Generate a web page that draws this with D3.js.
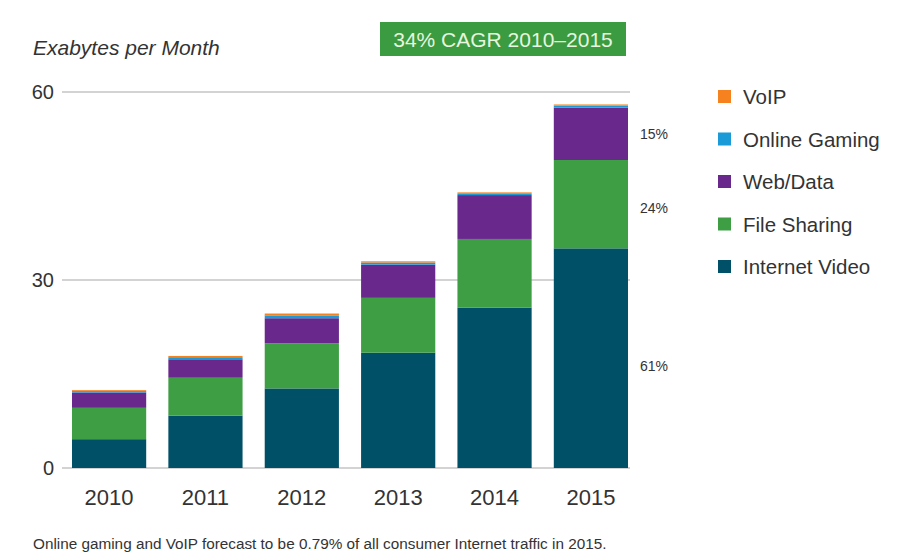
<!DOCTYPE html>
<html><head><meta charset="utf-8">
<script src="https://cdn.jsdelivr.net/npm/d3@7"></script>
<style>body{margin:0;background:#fff;} svg{display:block;font-family:"Liberation Sans",Arial,sans-serif;}</style>
</head><body>
<svg id="c" width="908" height="557"></svg>
<script>
const years = ["2010","2011","2012","2013","2014","2015"];
const seriesNames = ["Internet Video","File Sharing","Web/Data","Online Gaming","VoIP"];
const internetVideo = [4.6, 8.35, 12.7, 18.4, 25.6, 35.05];
const fileSharing  = [5.0, 6.05, 7.2, 8.75, 10.95, 14.1];
const webData      = [2.45, 2.95, 4.0, 5.3, 7.0, 8.35];
const onlineGaming = [0.22, 0.33, 0.45, 0.33, 0.28, 0.33];
const voip         = [0.15, 0.2, 0.3, 0.2, 0.15, 0.18];
const yTicks = [0, 30, 60];
const shareLabels = ["61%","24%","15%"];
const colors = ["#005068","#3d9e44","#69288c","#1a9ad7","#f5821f"];

const svg = d3.select("#c");
const x = d3.scaleBand().domain(years).range([72, 628]).paddingInner(0.23).paddingOuter(0);
const y = d3.scaleLinear().domain([0, 60]).range([468, 92]);

const table = years.map((yr, i) => ({year: yr,
  "Internet Video": internetVideo[i], "File Sharing": fileSharing[i],
  "Web/Data": webData[i], "Online Gaming": onlineGaming[i], "VoIP": voip[i]}));
const stacked = d3.stack().keys(seriesNames)(table);

// gridlines
svg.append("g").selectAll("line").data(yTicks).join("line")
  .attr("x1", 62).attr("x2", 630)
  .attr("y1", d => y(d)).attr("y2", d => y(d))
  .attr("stroke", "#c4c4c4").attr("stroke-width", 1.3);

// y tick labels
svg.append("g").selectAll("text").data(yTicks).join("text")
  .attr("x", 54).attr("y", d => y(d) + 7)
  .attr("text-anchor", "end").attr("font-size", 20).attr("fill", "#333")
  .text(d => d);

// bars
svg.append("g").selectAll("g").data(stacked).join("g")
  .attr("fill", (d, i) => colors[i])
  .selectAll("rect").data(d => d).join("rect")
  .attr("x", d => x(d.data.year)).attr("width", x.bandwidth())
  .attr("y", d => y(d[1])).attr("height", d => y(d[0]) - y(d[1]));

// x labels
svg.append("g").selectAll("text").data(years).join("text")
  .attr("x", d => x(d) + x.bandwidth() / 2).attr("y", 505)
  .attr("text-anchor", "middle").attr("font-size", 22).attr("fill", "#333")
  .text(d => d);

// share labels for 2015
const last = years.length - 1;
svg.append("g").selectAll("text").data(shareLabels).join("text")
  .attr("x", 640)
  .attr("y", (d, i) => (y(stacked[i][last][0]) + y(stacked[i][last][1])) / 2 + 5 + (2 - i) * 4)
  .attr("font-size", 14).attr("fill", "#333").text(d => d);

// title
svg.append("text").attr("x", 33).attr("y", 55).attr("font-size", 21)
  .attr("font-style", "italic").attr("fill", "#333").text("Exabytes per Month");

// CAGR box
svg.append("rect").attr("x", 380).attr("y", 22).attr("width", 246).attr("height", 34).attr("fill", "#3a9b40");
svg.append("text").attr("x", 503).attr("y", 47).attr("text-anchor", "middle")
  .attr("font-size", 21).attr("fill", "#e6f6df").text("34% CAGR 2010\u20132015");

// legend
const legendOrder = ["VoIP","Online Gaming","Web/Data","File Sharing","Internet Video"];
const lg = svg.append("g").selectAll("g").data(legendOrder).join("g")
  .attr("transform", (d, i) => `translate(718, ${90 + i * 42.5})`);
lg.append("rect").attr("width", 13).attr("height", 13)
  .attr("fill", d => colors[seriesNames.indexOf(d)]);
lg.append("text").attr("x", 25).attr("y", 14).attr("font-size", 20.5).attr("fill", "#333").text(d => d);

// footnote
svg.append("text").attr("x", 33).attr("y", 549).attr("font-size", 15.3).attr("fill", "#333")
  .text("Online gaming and VoIP forecast to be 0.79% of all consumer Internet traffic in 2015.");
</script>
</body></html>
